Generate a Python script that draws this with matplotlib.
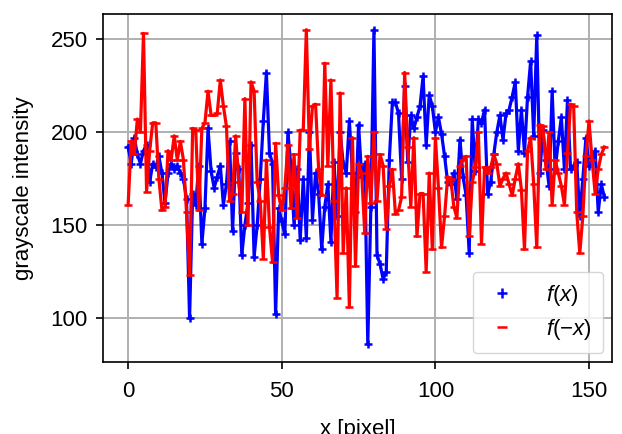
import numpy as np
import matplotlib
matplotlib.use("Agg")
import matplotlib.pyplot as plt

plt.rcParams['font.family'] = ['Liberation Sans', 'DejaVu Sans']
plt.rcParams['mathtext.fontset'] = 'custom'
plt.rcParams['mathtext.it'] = 'Liberation Sans:italic'
plt.rcParams['mathtext.rm'] = 'Liberation Sans'

# grayscale profile along a line, read forwards
f_pos = [
    192, 183, 197, 188, 183, 190, 193, 173, 183, 181,
    187, 178, 162, 178, 183, 180, 182, 178, 175, 164,
    100, 167, 161, 182, 140, 159, 202, 179, 170, 176,
    182, 161, 172, 195, 147, 189, 180, 134, 150, 162,
    193, 133, 150, 175, 206, 232, 189, 183, 102, 159,
    152, 145, 200, 181, 150, 180, 142, 175, 143, 200,
    153, 178, 167, 137, 160, 172, 141, 184, 155, 200,
    183, 178, 206, 178, 157, 204, 176, 183, 86, 160,
    255, 134, 129, 121, 125, 185, 216, 216, 210, 175,
    225, 184, 209, 202, 208, 214, 230, 193, 220, 214,
    200, 208, 199, 187, 173, 172, 178, 164, 196, 176,
    166, 135, 207, 179, 207, 205, 212, 167, 173, 188,
    200, 209, 196, 210, 212, 219, 227, 190, 212, 189,
    219, 238, 198, 252, 178, 201, 185, 171, 222, 180,
    195, 208, 180, 217, 180, 182, 184, 155, 175, 197,
    182, 187, 190, 157, 172, 165,
]

# grayscale profile along the mirrored line
f_neg = [
    161, 195, 188, 207, 200, 253, 168, 190, 205, 205,
    175, 158, 160, 190, 185, 198, 185, 195, 185, 157,
    123, 202, 201, 158, 202, 205, 222, 209, 209, 210,
    228, 214, 203, 163, 167, 198, 173, 157, 218, 150,
    227, 222, 173, 163, 132, 185, 149, 130, 194, 166,
    158, 170, 193, 159, 188, 154, 201, 201, 255, 191,
    214, 215, 180, 166, 237, 182, 228, 163, 111, 221,
    135, 170, 106, 197, 128, 183, 178, 146, 187, 162,
    200, 163, 188, 182, 148, 171, 180, 156, 158, 165,
    232, 192, 160, 197, 144, 167, 167, 125, 178, 137,
    197, 170, 138, 155, 176, 175, 160, 154, 182, 185,
    187, 144, 173, 181, 200, 140, 181, 178, 181, 188,
    183, 171, 175, 178, 172, 166, 175, 183, 169, 137,
    190, 197, 172, 138, 204, 203, 180, 200, 161, 185,
    178, 171, 161, 189, 215, 214, 157, 135, 155, 187,
    206, 185, 167, 180, 188, 192,
]

x = np.arange(len(f_pos))

fig = plt.figure(figsize=(6.22, 4.34), dpi=100)
ax = fig.add_axes([0.166, 0.166, 0.818, 0.802])

ax.plot(x, f_pos, color='blue', lw=2.3, zorder=2)
ax.plot(x, f_pos, '+', color='blue', ms=6, mew=1.8, zorder=3, label='$f(x)$')
ax.plot(x, f_neg, color='red', lw=2.3, zorder=4)
ax.plot(x, f_neg, '_', color='red', ms=6, mew=1.8, zorder=5, label='$f(-x)$')

ax.set_xlim(-8.1, 157.5)
ax.set_ylim(76.5, 263.5)
ax.set_xticks([0, 50, 100, 150])
ax.set_yticks([100, 150, 200, 250])
ax.grid(True, color='#b0b0b0', lw=1.4)
for s in ax.spines.values():
    s.set_linewidth(1.2)
ax.tick_params(labelsize=16, length=5, width=1.2)
ax.tick_params(axis='x', pad=9)
ax.tick_params(axis='y', pad=6)
ax.set_xlabel('x [pixel]', fontsize=16, labelpad=12)
ax.set_ylabel('grayscale intensity', fontsize=16, labelpad=12)

ax.legend(loc='lower right', fontsize=16, handlelength=1.6, markerscale=1.2,
          borderpad=0.5, labelspacing=0.4, handletextpad=1.2,
          borderaxespad=0.4)

fig.savefig('out.png', dpi=100)
